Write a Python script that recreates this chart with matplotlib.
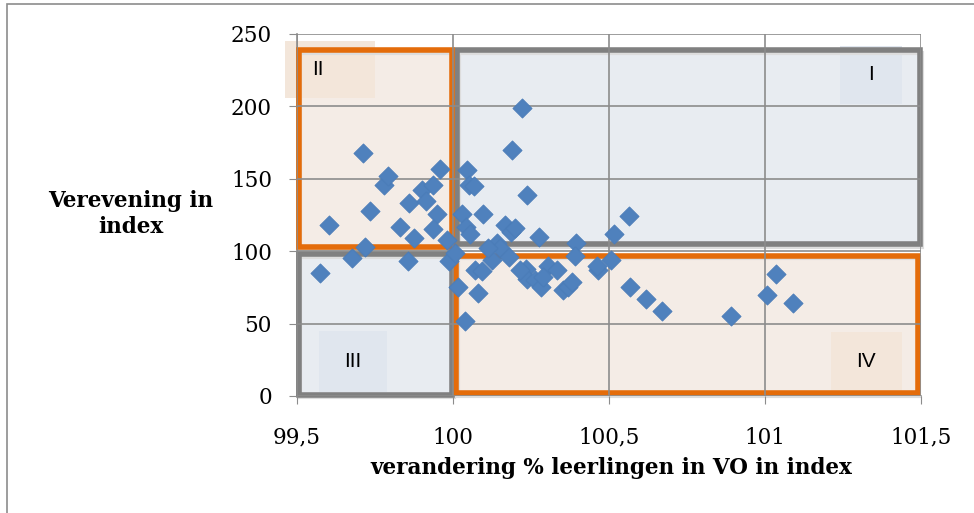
import matplotlib.pyplot as plt
from matplotlib.patches import Rectangle

# data
vo_change = [99.574, 99.603, 99.712, 99.734, 99.676, 99.718, 99.779, 99.792, 99.83, 99.859,
             99.856, 99.875, 99.90, 99.913, 99.936, 99.949, 99.958, 99.936, 99.987, 100.016,
             100.038, 100.029, 100.045, 100.051, 100.067, 100.042, 100.055, 100.08, 100.096, 100.07,
             100.093, 100.141, 100.167, 100.186, 100.199, 100.189, 100.221, 100.237, 100.276, 100.234,
             100.237, 100.263, 100.282, 100.305, 100.333, 100.353, 100.369, 100.394, 100.391, 100.465,
             100.462, 100.506, 100.516, 100.564, 100.567, 100.619, 100.67, 100.891, 101.006, 101.035,
             101.09, 100.151, 100.179, 100.125, 100.006, 99.98, 100.112, 100.215, 100.29, 100.381]
verevening = [85, 118, 168, 128, 95, 103, 146, 152, 117, 133,
              93, 109, 142, 135, 146, 126, 157, 115, 93, 75,
              52, 126, 156, 146, 145, 117, 112, 71, 126, 87,
              86, 106, 118, 113, 116, 170, 199, 139, 110, 88,
              81, 80, 75, 90, 87, 73, 75, 106, 97, 87,
              90, 94, 112, 124, 75, 67, 59, 55, 70, 84,
              64, 102, 96, 94, 99, 108, 102, 87, 82, 79]

x_ticks = [99.5, 100, 100.5, 101, 101.5]
x_tick_labels = ["99,5", "100", "100,5", "101", "101,5"]
y_ticks = [0, 50, 100, 150, 200, 250]

# quadrant boxes: (x0, y0, x1, y1, edge colour, fill colour, label, label box)
quadrants = [
    (100.013, 105, 101.497, 239, "#808080", "#e8ecf1", "I", (101.24, 202, 101.44, 242)),
    (99.506, 103, 99.997, 239, "#e46c0a", "#f4ece6", "II", (99.46, 206, 99.75, 245)),
    (99.506, 1, 99.997, 98, "#808080", "#e8ecf1", "III", (99.57, 3, 99.79, 45)),
    (100.01, 2, 101.49, 97, "#e46c0a", "#f4ece6", "IV", (101.21, 3, 101.44, 44)),
]

fig = plt.figure(figsize=(9.74, 5.13), dpi=100)
ax = fig.add_axes([297 / 974, 1 - 396 / 513, 624 / 974, 362 / 513])

for x0, y0, x1, y1, ec, fc, label, lb in quadrants:
    # soft shadow
    ax.add_patch(Rectangle((x0 + 0.005, y0 - 2), x1 - x0, y1 - y0, facecolor="none",
                           edgecolor="#dddddd", linewidth=3, zorder=1.4, clip_on=False))
    ax.add_patch(Rectangle((x0, y0), x1 - x0, y1 - y0, facecolor=fc, edgecolor="none",
                           zorder=0.5, clip_on=False))
    bx0, by0, bx1, by1 = lb
    ax.add_patch(Rectangle((bx0, by0), bx1 - bx0, by1 - by0,
                           facecolor="#f3e6da" if ec != "#808080" else "#e0e6ee",
                           edgecolor="none", zorder=0.6, clip_on=False))
    ax.add_patch(Rectangle((x0, y0), x1 - x0, y1 - y0, facecolor="none", edgecolor=ec,
                           linewidth=4, zorder=1.5, clip_on=False))
    ax.text((bx0 + bx1) / 2 if label != "II" else 99.55, (by0 + by1) / 2, label,
            fontsize=15, family="Liberation Sans", ha="center" if label != "II" else "left",
            va="center", zorder=1.6)

ax.scatter(vo_change, verevening, marker="D", s=95, color="#4f81bd",
           edgecolors="#4a7cb8", linewidths=0.6, zorder=3, clip_on=False)

ax.set_xlim(99.5, 101.5)
ax.set_ylim(0, 250)
ax.set_xticks(x_ticks)
ax.set_xticklabels(x_tick_labels)
ax.set_yticks(y_ticks)
ax.grid(True, color="#8c8c8c", linewidth=1.2, zorder=1)
ax.set_axisbelow(False)
for sp in ["top", "right"]:
    ax.spines[sp].set_visible(False)
for sp in ["left", "bottom"]:
    ax.spines[sp].set_color("#8c8c8c")
    ax.spines[sp].set_linewidth(1.2)
    ax.spines[sp].set_zorder(1)
ax.tick_params(length=6, color="#8c8c8c", labelsize=15.5)
ax.tick_params(axis="x", pad=16)
ax.tick_params(axis="y", pad=12)
for lbl in ax.get_xticklabels() + ax.get_yticklabels():
    lbl.set_family("DejaVu Serif")
ax.set_facecolor("white")

fig.text(611 / 974, 1 - 468 / 513, "verandering % leerlingen in VO in index",
         ha="center", va="center", fontsize=15.5, fontweight="bold", family="DejaVu Serif")
fig.text(131 / 974, 1 - 214 / 513, "Verevening in\nindex", ha="center", va="center",
         fontsize=15.5, fontweight="bold", family="DejaVu Serif", linespacing=1.25)

# outer chart border
fig.add_artist(Rectangle((7 / 974, -0.05), 1.1, 1 - 4 / 513 + 0.05, transform=fig.transFigure,
                         facecolor="none", edgecolor="#8c8c8c", linewidth=1.2))

fig.savefig("out.png", dpi=100)
